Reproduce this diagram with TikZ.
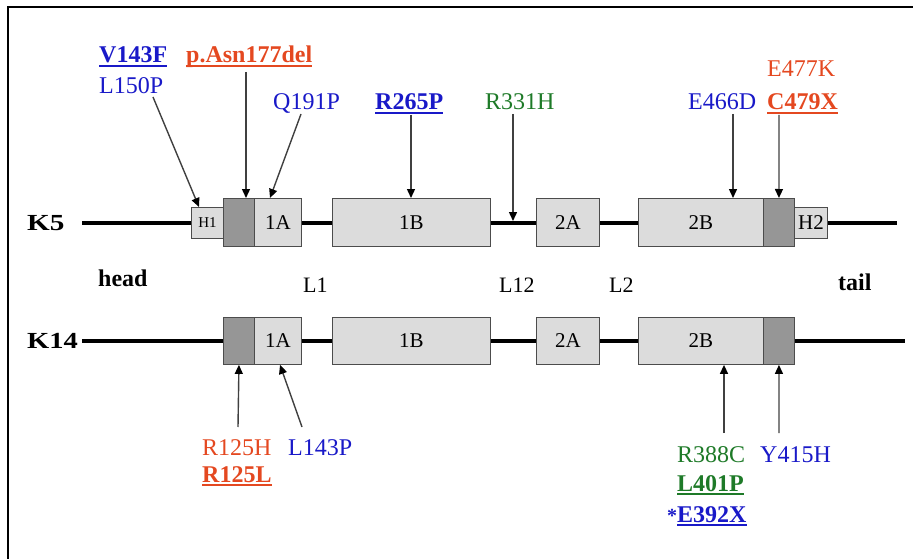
\documentclass[tikz,border=0pt]{standalone}
\usepackage{fontspec}
\setmainfont{Liberation Serif}
\usetikzlibrary{calc,arrows.meta}
\definecolor{mblue}{RGB}{25,25,200}
\definecolor{mred}{RGB}{228,72,32}
\definecolor{mgreen}{RGB}{30,122,40}
\definecolor{lgray}{RGB}{220,220,220}
\definecolor{dgray}{RGB}{150,150,150}
\newsavebox\ulbox
\newcommand\ulx[1]{\sbox\ulbox{#1}\rlap{\vrule width \wd\ulbox height -2pt depth 4pt}\usebox\ulbox}
\tikzset{
  lbl/.style={inner sep=0, anchor=base west, font=\fontsize{24}{28}\selectfont},
  box/.style={draw=black!70, line width=0.9pt, inner sep=0, anchor=north west, font=\fontsize{21}{24}\selectfont},
  kbox/.style={box, minimum height=48pt},
  hbox/.style={box, minimum height=31pt},
  chain/.style={line width=4pt, black},
  arr/.style={draw=black!75, line width=1.4pt, -{Triangle[length=9pt,width=8pt,black]}},
  frame/.style={line width=2.2pt, black}
}
\begin{document}
\begin{tikzpicture}[x=1pt,y=-1pt]
\useasboundingbox (0,0) rectangle (913,559);
% frame
\coordinate (ftr) at (913,6.8);
\coordinate (ftl) at (7.7,6.8);
\coordinate (fbl) at (7.7,559);
\draw[frame] (ftr) -- (ftl) -- (fbl);

% row labels
\node[lbl, font=\fontsize{23}{26}\selectfont\bfseries] (k5) at (27,230) {\scalebox{1.27}[1]{K5}};
\node[lbl, font=\fontsize{23}{26}\selectfont\bfseries] (k14) at (27,348) {\scalebox{1.24}[1]{K14}};
\node[lbl, font=\fontsize{24}{28}\selectfont\bfseries] (head) at (98,286) {head};
\node[lbl, font=\fontsize{24}{28}\selectfont\bfseries] (tail) at (838,290) {tail};
\node[lbl, font=\fontsize{22}{26}\selectfont] (l1) at (303,292) {L1};
\node[lbl, font=\fontsize{22}{26}\selectfont] (l12) at (499,292) {L12};
\node[lbl, font=\fontsize{22}{26}\selectfont] (l2) at (609,292) {L2};

% chains
\coordinate (k5s) at (82,222.5);
\coordinate (k5e) at (897,222.5);
\coordinate (k14s) at (82,341);
\coordinate (k14e) at (905,341);
\draw[chain] (k5s) -- (k5e);
\draw[chain] (k14s) -- (k14e);

% K5 boxes
\node[hbox, fill=lgray, minimum width=32pt] (h1) at (191,207) {\fontsize{15}{18}\selectfont H1};
\node[kbox, fill=dgray, minimum width=31pt] (d5a) at (223,198) {};
\node[kbox, fill=lgray, minimum width=47pt] (a5) at (254,198) {1A};
\node[kbox, fill=lgray, minimum width=158pt] (b5) at (332,198) {1B};
\node[kbox, fill=lgray, minimum width=63pt] (c5) at (536,198) {2A};
\node[kbox, fill=lgray, minimum width=125pt] (e5) at (638,198) {2B};
\node[kbox, fill=dgray, minimum width=31pt] (d5b) at (763,198) {};
\node[hbox, fill=lgray, minimum width=33pt] (h2) at (794,207) {H2};

% K14 boxes
\node[kbox, fill=dgray, minimum width=31pt, minimum height=47pt] (d14a) at (223,317) {};
\node[kbox, fill=lgray, minimum width=47pt, minimum height=47pt] (a14) at (254,317) {1A};
\node[kbox, fill=lgray, minimum width=158pt, minimum height=47pt] (b14) at (332,317) {1B};
\node[kbox, fill=lgray, minimum width=63pt, minimum height=47pt] (c14) at (536,317) {2A};
\node[kbox, fill=lgray, minimum width=125pt, minimum height=47pt] (e14) at (638,317) {2B};
\node[kbox, fill=dgray, minimum width=31pt, minimum height=47pt] (d14b) at (763,317) {};

% top labels
\node[lbl, text=mblue, font=\fontsize{24}{28}\selectfont\bfseries] (v143f) at (99,63) {\ulx{V143F}};
\node[lbl, text=mblue] (l150p) at (99,94) {L150P};
\node[lbl, text=mred, font=\fontsize{24}{28}\selectfont\bfseries] (asn) at (186,63) {\ulx{p.Asn177del}};
\node[lbl, text=mblue] (q191p) at (273,110) {Q191P};
\node[lbl, text=mblue, font=\fontsize{24}{28}\selectfont\bfseries] (r265p) at (375,110) {\ulx{R265P}};
\node[lbl, text=mgreen] (r331h) at (485,110) {R331H};
\node[lbl, text=mblue] (e466d) at (688,110) {E466D};
\node[lbl, text=mred] (e477k) at (767,77) {E477K};
\node[lbl, text=mred, font=\fontsize{24}{28}\selectfont\bfseries] (c479x) at (767,110) {\ulx{C479X}};

% bottom labels
\node[lbl, text=mred] (r125h) at (202,455) {R125H};
\node[lbl, text=mred, font=\fontsize{24}{28}\selectfont\bfseries] (r125l) at (202,482) {\ulx{R125L}};
\node[lbl, text=mblue] (l143p) at (288,455) {L143P};
\node[lbl, text=mgreen] (r388c) at (677,462) {R388C};
\node[lbl, text=mgreen, font=\fontsize{24}{28}\selectfont\bfseries] (l401p) at (677,491) {\ulx{L401P}};
\node[lbl, text=mblue, font=\fontsize{24}{28}\selectfont\bfseries] (e392x) at (677,522) {\llap{\fontsize{20}{20}\selectfont *}\ulx{E392X}};
\node[lbl, text=mblue] (y415h) at (760,462) {Y415H};

% arrow start points
\coordinate (s1) at (153,97);
\coordinate (s2) at (246,72);
\coordinate (s3) at (301,114);
\coordinate (s4) at (411,115);
\coordinate (s5) at (513,114);
\coordinate (s6) at (733,114);
\coordinate (s7) at (779,115);
\coordinate (s8) at (238,427);
\coordinate (s9) at (302,427);
\coordinate (s10) at (724,433);
\coordinate (s11) at (779,433);
\coordinate (r331t) at (513,221);

% arrows
\draw[arr] (s1) -- ($(h1.north west)+(8,0)$);
\draw[arr] (s2) -- ($(d5a.north west)+(23,0)$);
\draw[arr] (s3) -- ($(a5.north west)+(16,0)$);
\draw[arr] (s4) -- ($(b5.north west)+(79,0)$);
\draw[arr] (s5) -- (r331t);
\draw[arr] (s6) -- ($(e5.north west)+(95,0)$);
\draw[arr] (s7) -- (d5b.north);
\draw[arr] (s8) -- (d14a.south);
\draw[arr] (s9) -- ($(a14.south west)+(26,0)$);
\draw[arr] (s10) -- ($(e14.south west)+(86,0)$);
\draw[arr] (s11) -- (d14b.south);
\end{tikzpicture}
\end{document}
